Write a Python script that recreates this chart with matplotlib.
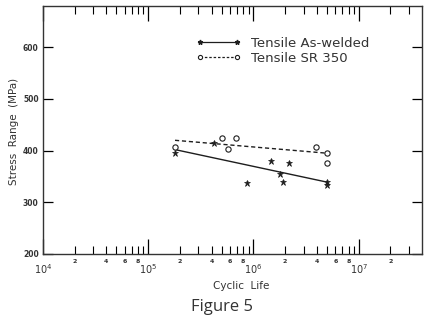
"""
Figure 5 - curva S-N, Tensile As-welded x Tensile SR 350
"""
import numpy as np
import matplotlib
matplotlib.use('Agg')
import matplotlib.pyplot as plt
from matplotlib.ticker import FixedLocator, NullFormatter

# Dados
aw_N = [1.8e5, 4.2e5, 8.6e5, 1.48e6, 1.8e6, 1.9e6, 2.2e6, 5.0e6, 5.0e6]
aw_S = [396, 414, 338, 380, 355, 340, 376, 339, 333]
sr_N = [1.8e5, 5.0e5, 5.7e5, 6.9e5, 3.9e6, 5.0e6, 5.0e6]
sr_S = [407, 425, 403, 425, 407, 395, 376]

# Retas de ajuste (extremos)
aw_fit_N = [1.8e5, 5.0e6]
aw_fit_S = [402, 339]
sr_fit_N = [1.8e5, 5.0e6]
sr_fit_S = [420, 395]

y_ticks = [200, 300, 400, 500, 600]
decades = [1e4, 1e5, 1e6, 1e7]
minor_labels = [2, 4, 6, 8]

ink = '#1e1e1e'

fig = plt.figure(figsize=(4.37, 3.17), dpi=100)
ax = fig.add_axes([0.098, 0.199, 0.868, 0.782])

ax.plot(aw_fit_N, aw_fit_S, '-', color=ink, lw=1.0)
ax.plot(sr_fit_N, sr_fit_S, '--', color=ink, lw=1.0, dashes=(3, 2))
ax.plot(aw_N, aw_S, '*', color=ink, ms=4.5, mew=0.5, ls='none')
ax.plot(sr_N, sr_S, 'o', color=ink, mfc='white', ms=3.8, mew=0.8, ls='none')

# Legenda com marcadores nas duas pontas
h1, = ax.plot([], [], '-', color=ink, lw=0.9, marker='*', ms=3.5, label='Tensile As-welded')
h2, = ax.plot([], [], '--', color=ink, lw=0.9, dashes=(2, 1.5), marker='o', mfc='white',
              ms=3, mew=0.8, label='Tensile SR 350')
ax.legend(handles=[h1, h2], loc='upper left', bbox_to_anchor=(0.405, 0.875), frameon=False,
          numpoints=2, handlelength=3.4, handletextpad=0.7, labelspacing=0.12,
          borderpad=0, borderaxespad=0, prop={'size': 9.5})
for t in ax.get_legend().get_texts():
    t.set_color('#333')

ax.set_xscale('log')
ax.set_xlim(1e4, 4e7)
ax.set_ylim(200, 680)

# Eixo y
ax.set_yticks(y_ticks)
ax.set_yticklabels([str(v) for v in y_ticks], fontsize=5.5, fontweight='bold', color='#333')
ax.tick_params(axis='y', which='major', direction='in', length=7, width=0.9,
               left=True, right=True, pad=3)

# Eixo x
minor_pos = [d * m for d in decades for m in range(2, 10) if d * m < 4e7]
ax.xaxis.set_major_locator(FixedLocator(decades))
ax.xaxis.set_minor_locator(FixedLocator(minor_pos))
ax.set_xticklabels([r'$10^{%d}$' % int(np.log10(d)) for d in decades], fontsize=7, color='#333')
ax.xaxis.set_minor_formatter(NullFormatter())
ax.tick_params(axis='x', which='major', direction='in', length=11, width=0.9,
               top=True, bottom=True, pad=6)
ax.tick_params(axis='x', which='minor', direction='in', length=6, width=0.8,
               top=True, bottom=True)

# Rotulos pequenos 2,4,6,8
for d in decades:
    for m in minor_labels:
        if d * m < 4e7:
            ax.text(d * m, -0.032, str(m), transform=ax.get_xaxis_transform(),
                    ha='center', va='center', fontsize=4.5, fontweight='bold', color='#333')

for s in ax.spines.values():
    s.set_linewidth(1.0)
    s.set_color('#333')

fig.text(0.032, 0.585, 'Stress  Range  (MPa)', rotation=90, ha='center', va='center',
         fontsize=7.5, color='#333')
fig.text(0.552, 0.097, 'Cyclic  Life', ha='center', va='center', fontsize=7.5, color='#333')
fig.text(0.508, 0.03, 'Figure 5', ha='center', va='center', fontsize=12,
         family='Open Sans', color='#333')

fig.savefig('out.png', dpi=100)
